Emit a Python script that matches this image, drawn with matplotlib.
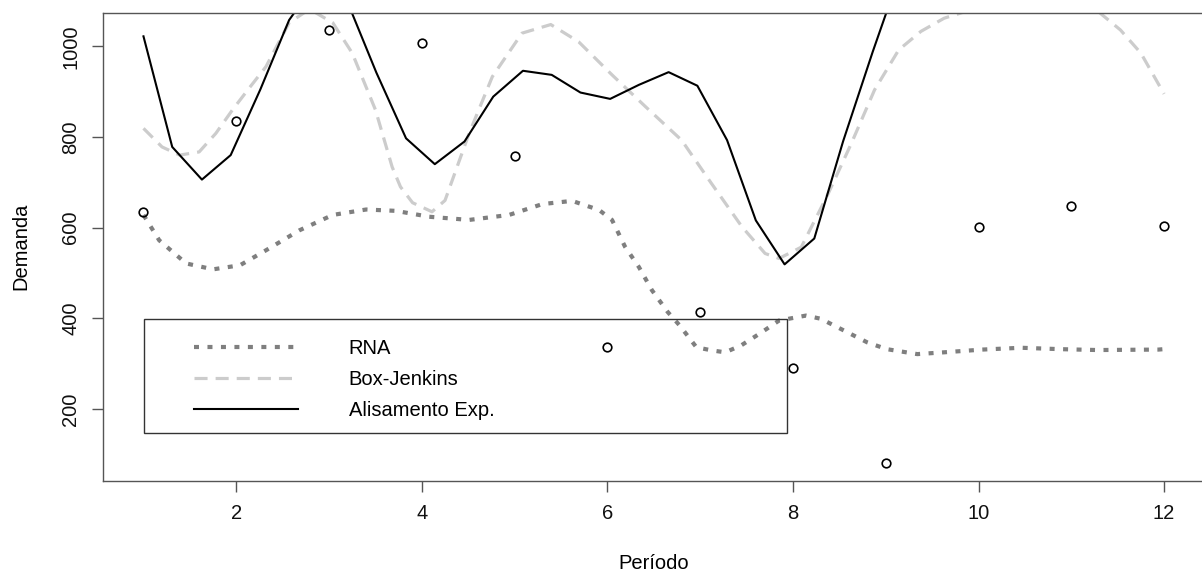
import numpy as np
import matplotlib
matplotlib.use('Agg')
import matplotlib.pyplot as plt
from matplotlib.patches import Rectangle

plt.rcParams['font.family'] = ['Liberation Sans', 'DejaVu Sans']
plt.rcParams['lines.scale_dashes'] = False

# observed demand
periodo = [1, 2, 3, 4, 5, 6, 7, 8, 9, 10, 11, 12]
demanda = [635, 836, 1036, 1007, 759, 336, 413, 290, 80, 602, 648, 604]

# RNA forecast (smooth curve)
rna_x = [1.00, 1.17, 1.46, 1.75, 2.04, 2.32, 2.68, 3.04, 3.40, 3.72, 4.08, 4.51,
         4.94, 5.30, 5.62, 5.91, 6.05, 6.19, 6.34, 6.48, 6.65, 6.78, 6.96, 7.13,
         7.27, 7.44, 7.64, 7.85, 8.14, 8.30, 8.55, 8.80, 9.01, 9.34, 9.63, 10.04,
         10.46, 10.87, 11.28, 11.94, 12.00]
rna_y = [628, 572, 521, 508, 517, 550, 594, 628, 640, 637, 624, 617,
         628, 652, 659, 639, 617, 558, 513, 462, 414, 384, 336, 329,
         325, 340, 366, 395, 406, 399, 373, 347, 332, 321, 325, 331,
         335, 332, 330, 331, 332]

# Box-Jenkins forecast
bj_x = [1.00, 1.20, 1.39, 1.60, 1.78, 1.96, 2.14, 2.32, 2.57, 2.79, 3.04, 3.25,
        3.50, 3.68, 3.77, 3.90, 4.11, 4.25, 4.51, 4.76, 5.08, 5.39, 5.69, 6.05,
        6.41, 6.80, 7.12, 7.45, 7.70, 7.85, 8.09, 8.38, 8.63, 8.88, 9.14, 9.38,
        9.63, 9.85, 10.20, 10.60, 11.00, 11.30, 11.53, 11.75, 12.00]
bj_y = [819, 778, 760, 767, 808, 860, 908, 955, 1052, 1082, 1052, 985,
        860, 734, 690, 655, 635, 660, 808, 933, 1029, 1048, 1010, 937,
        867, 793, 698, 602, 543, 532, 557, 675, 786, 904, 992, 1033,
        1062, 1076, 1095, 1105, 1095, 1075, 1036, 985, 895]

# exponential smoothing forecast
ae_x = [1.00, 1.31, 1.63, 1.94, 2.26, 2.57, 2.89, 3.20, 3.51, 3.83, 4.14, 4.46,
        4.77, 5.09, 5.40, 5.71, 6.03, 6.34, 6.66, 6.97, 7.29, 7.60, 7.91, 8.23,
        8.54, 8.86, 9.17, 9.49, 9.80, 10.11, 10.43, 10.74, 11.06, 11.37, 11.69, 12.00]
ae_y = [1022, 778, 706, 760, 905, 1058, 1150, 1097, 942, 797, 740, 790,
        889, 946, 937, 898, 884, 915, 943, 913, 793, 616, 519, 576,
        790, 988, 1170, 1260, 1320, 1340, 1330, 1310, 1290, 1280, 1270, 1265]

FS = 14.5

fig = plt.figure(figsize=(12.02, 5.75), dpi=100)
ax = fig.add_axes([0.0854, 0.164, 0.917, 0.814])

ax.plot(periodo, demanda, ls='none', marker='o', ms=6.2, mfc='none',
        mec='black', mew=1.2, zorder=3)
ax.plot(rna_x, rna_y, color='#7f7f7f', lw=3.0, ls=(0, (3.6, 6.1)),
        solid_capstyle='butt', dash_capstyle='butt', label='RNA')
ax.plot(bj_x, bj_y, color='#cccccc', lw=2.3, ls=(0, (9.4, 5.8)),
        dash_capstyle='butt', label='Box-Jenkins')
ax.plot(ae_x, ae_y, color='black', lw=1.5, label='Alisamento Exp.')

# R-style axis ranges (4% padding)
xr = max(periodo) - min(periodo)
ax.set_xlim(min(periodo) - 0.04 * xr, max(periodo) + 0.04 * xr)
yr = max(demanda) - min(demanda)
ax.set_ylim(min(demanda) - 0.04 * yr, max(demanda) + 0.04 * yr)

ax.set_xticks([2, 4, 6, 8, 10, 12])
ax.set_yticks([200, 400, 600, 800, 1000])
for s in ax.spines.values():
    s.set_color('#555555')
    s.set_linewidth(1.0)
ax.tick_params(axis='both', length=8, width=1.0, color='#555555',
               labelsize=FS, labelcolor='#111111')
ax.tick_params(axis='x', pad=9)
ax.tick_params(axis='y', pad=8)
for lab in ax.get_yticklabels():
    lab.set_rotation(90)
    lab.set_va('center')

ax.set_xlabel('Período', fontsize=FS)
ax.set_ylabel('Demanda', fontsize=FS)
ax.xaxis.set_label_coords(0.5, -0.176)
ax.yaxis.set_label_coords(-0.0741, 0.5)
ax.xaxis.label.set_va('center')
ax.yaxis.label.set_va('center')

# legend box (transparent, R style)
ax.add_patch(Rectangle((0.0375, 0.101), 0.583, 0.244, transform=ax.transAxes,
                       fill=False, edgecolor='#333333', lw=1.0, zorder=4))
ax.legend(loc='upper left', bbox_to_anchor=(0.0825, 0.303), frameon=False,
          fontsize=FS, borderpad=0, borderaxespad=0, handlelength=5.2,
          handletextpad=2.5, labelspacing=0.6)

fig.savefig('out.png', dpi=100)
